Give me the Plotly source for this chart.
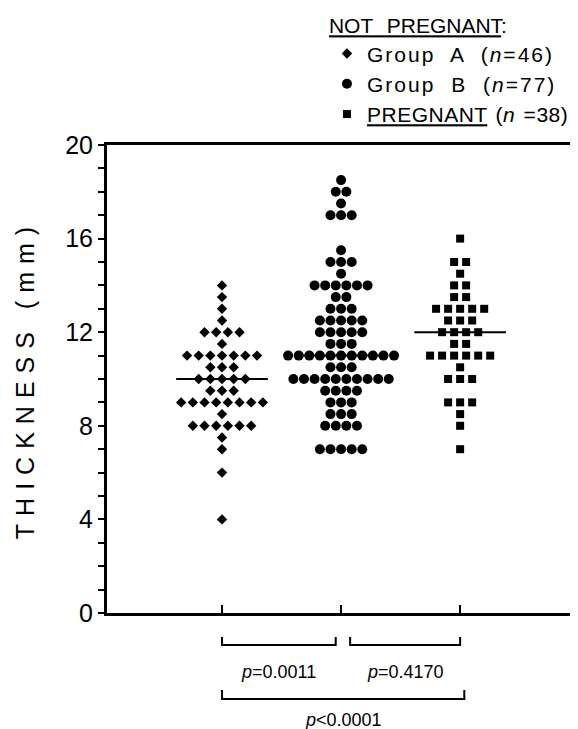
import numpy as np
import plotly.graph_objects as go

# ---- data ----
group_names = ["Group A", "Group B", "PREGNANT"]
group_positions = [1, 2, 3]

a_levels = [14, 13.5, 13, 12.5, 12, 11.5, 11, 10.5, 10, 9.5, 9, 8.5, 8, 7.5, 7, 6, 4]
a_counts = [1, 1, 1, 1, 4, 1, 7, 3, 5, 3, 8, 1, 6, 1, 1, 1, 1]

b_levels = [18.5, 18, 17.5, 17, 15.5, 15, 14.5, 14, 13.5, 13, 12.5, 12, 11.5, 11, 10.5, 10, 9.5, 9, 8.5, 8, 7]
b_counts = [1, 2, 1, 3, 1, 3, 1, 6, 2, 3, 5, 5, 3, 11, 3, 10, 4, 3, 3, 4, 5]

c_levels = [16, 15, 14.5, 14, 13.5, 13, 12.5, 12, 11.5, 11, 10.5, 10, 9, 8.5, 8, 7]
c_counts = [1, 2, 1, 2, 2, 5, 3, 4, 2, 6, 1, 3, 3, 1, 1, 1]

legend_labels = [
    "Group A (<i>n</i>=46)",
    "Group B (<i>n</i>=77)",
    "<u>PREGNANT</u> (<i>n</i> =38)",
]
p_labels = ["<i>p</i>=0.0011", "<i>p</i>=0.4170", "<i>p</i>&lt;0.0001"]
y_ticks = [0, 4, 8, 12, 16, 20]

# ---- styling ----
symbols = ["diamond", "circle", "square"]
sizes = [8, 10, 8]
steps = [0.098, 0.089, 0.101]
label_styles = ["letter-spacing:2px;word-spacing:8px",
                "letter-spacing:2px;word-spacing:8px",
                "letter-spacing:0.5px;word-spacing:2px"]
X_RANGE = [0.034, 3.99]
FONT = "Liberation Sans"


def swarm(pos, levels, counts, step):
    xs, ys = [], []
    for lv, n in zip(levels, counts):
        for j in range(n):
            xs.append(pos + (j - (n - 1) / 2) * step)
            ys.append(lv)
    return xs, ys


fig = go.Figure()
all_groups = [(a_levels, a_counts), (b_levels, b_counts), (c_levels, c_counts)]

# median lines
for pos, (lv, ct) in zip(group_positions, all_groups):
    med = float(np.median(np.repeat(lv, ct)))
    fig.add_trace(go.Scatter(x=[pos - 0.385, pos + 0.385], y=[med, med], mode="lines",
                             line=dict(color="black", width=2), showlegend=False,
                             hoverinfo="skip"))

for i, (pos, (lv, ct)) in enumerate(zip(group_positions, all_groups)):
    xs, ys = swarm(pos, lv, ct, steps[i])
    fig.add_trace(go.Scatter(
        x=xs, y=ys, mode="markers",
        marker=dict(symbol=symbols[i], size=sizes[i], color="black", line=dict(width=0)),
        name=f'<span style="{label_styles[i]}">' + legend_labels[i] + "</span>",
    ))

# comparison brackets below the axis
brackets = [(1, 1.955, -0.0684, -0.0513), (2.076, 3.0, -0.0684, -0.0513), (1, 3.035, -0.1838, -0.1645)]
for x0, x1, yb, yt in brackets:
    fig.add_shape(type="path", xref="x", yref="paper",
                  path=f"M {x0},{yt} L {x0},{yb} L {x1},{yb} L {x1},{yt}",
                  line=dict(color="black", width=2))

p_pos = [((1 + 1.955) / 2, -0.126), ((2.076 + 3.0) / 2, -0.126), ((1 + 3.035) / 2, -0.2286)]
for (px, py), txt in zip(p_pos, p_labels):
    fig.add_annotation(x=px, y=py, xref="x", yref="paper", text=txt, showarrow=False,
                       xanchor="center", yanchor="middle",
                       font=dict(family=FONT, size=18, color="black"))

# the page body has an 8px default margin, so the figure is sized/offset to fit it
fig.update_layout(
    width=570, height=721,
    margin=dict(l=99, r=0, t=137, b=116, autoexpand=False),
    paper_bgcolor="white", plot_bgcolor="white",
    font=dict(family=FONT, color="black"),
    showlegend=True,
    legend=dict(
        x=0.467, y=1.297, xanchor="left", yanchor="top",
        bgcolor="rgba(0,0,0,0)",
        font=dict(family=FONT, size=21, color="black"),
        title=dict(text='<span style="word-spacing:8px"><u>NOT PREGNANT</u>:</span>',
                   font=dict(family=FONT, size=21, color="black")),
        tracegroupgap=0,
    ),
    xaxis=dict(range=X_RANGE, showgrid=False, zeroline=False, showline=True,
               linecolor="black", linewidth=3, mirror=True,
               tickmode="array", tickvals=group_positions, ticktext=["", "", ""],
               ticks="inside", ticklen=8, tickwidth=1.5, tickcolor="black"),
    yaxis=dict(range=[0, 20], showgrid=False, zeroline=False, showline=True,
               linecolor="black", linewidth=3,
               tickmode="array", tickvals=y_ticks,
               ticks="outside", ticklen=6, tickwidth=1.5, tickcolor="black",
               tickfont=dict(family=FONT, size=25, color="black"),
               minor=dict(dtick=1, ticks="outside", ticklen=6, tickwidth=1.5, tickcolor="black"),
               title=dict(text='<span style="letter-spacing:8px">THICKNESS (mm)</span>',
                          font=dict(family=FONT, size=25, color="black"), standoff=24)),
)

fig.write_html("out.html")
